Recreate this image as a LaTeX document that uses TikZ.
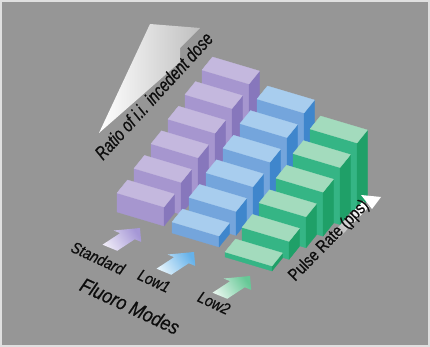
\documentclass[tikz,border=0pt]{standalone}
\usepackage{fontspec}
\setmainfont{Liberation Sans}
\newfontfamily\labfont[FakeBold=0.7]{Liberation Sans}
\definecolor{bg}{HTML}{969696}
\definecolor{putop}{HTML}{C4B8DE}
\definecolor{pufront}{HTML}{A696CF}
\definecolor{puright}{HTML}{8777BC}
\definecolor{bltop}{HTML}{A8CDEE}
\definecolor{blfront}{HTML}{74A5DC}
\definecolor{blright}{HTML}{3F86CC}
\definecolor{grtop}{HTML}{A3DBBD}
\definecolor{grfront}{HTML}{35B585}
\definecolor{grright}{HTML}{1FA068}
\definecolor{pulight}{HTML}{ECE8F6}
\definecolor{pudark}{HTML}{A597D6}
\definecolor{bllight}{HTML}{E2F2FB}
\definecolor{bldark}{HTML}{66B2EA}
\definecolor{grlight}{HTML}{E2F4EA}
\definecolor{grdark}{HTML}{66C896}
\newcommand\modearrow[4]{%
  \begin{scope}[shift={(#1,#2)}]
    \shade[top color=#4, bottom color=#3, shading angle=-57]
      (0,0) -- (1.24,13.92) -- (-5.2,11.26) -- (-22.77,22.77) -- (-37.49,16.69)
      -- (-19.92,5.18) -- (-26.36,2.52) -- cycle;
  \end{scope}}
\begin{document}
\begin{tikzpicture}[x=1pt,y=-1pt,
  face/.style={fill=#1,draw=#1,line width=0.3pt,line join=round},
  lbl/.style={font=\labfont\fontsize{14}{14}\selectfont\itshape, inner sep=0pt, text=black!95}]
\useasboundingbox (0,0) rectangle (430,347);
\fill[black!12] (0,0) rectangle (430,347);
\fill[bg] (2,2) rectangle (428,345);
% ratio arrow
\shade[left color=white, right color=black!25] (99,133) -- (150,24) -- (200,28) -- (180,48) -- (180,62) -- cycle;
\node[anchor=base west, rotate=47.5, xscale=0.88, yscale=1.15, inner sep=0pt, text=black!95,
  font=\labfont\fontsize{16.5}{17}\selectfont\itshape] (ratio) at (103,161) {Ratio of i.i. incedent dose};
% blocks
\foreach \ox/\oy/\h/\c in {117/212/19/pu,172/233/11/bl,225/257/5/gr}{
  \foreach \i in {5,4,3,2,1,0}{
    \pgfmathsetmacro\fx{\ox+17*\i}
    \pgfmathsetmacro\fy{\oy-11.6*\i}
    \pgfmathsetmacro\ty{\fy-\h-13*\i}
    \path[face=\c front] (\fx,\fy) -- (\fx+47,\fy+14) -- (\fx+47,\ty+14) -- (\fx,\ty) -- cycle;
    \path[face=\c right] (\fx+47,\fy+14) -- (\fx+57.5,\fy+1) -- (\fx+57.5,\ty+1) -- (\fx+47,\ty+14) -- cycle;
    \path[face=\c top] (\fx,\ty) -- (\fx+47,\ty+14) -- (\fx+57.5,\ty+1) -- (\fx+10.5,\ty-13) -- cycle;
  }
}
% mode arrows
\modearrow{140}{228}{pulight}{pudark}
\modearrow{194}{252}{bllight}{bldark}
\modearrow{250}{276}{grlight}{grdark}
% labels
\node[lbl, rotate=-25, yscale=1.15] (std) at (98,258) {Standard};
\node[lbl, rotate=-25, yscale=1.15] (low1) at (154,281) {Low1};
\node[lbl, rotate=-25, yscale=1.15] (low2) at (214,303) {Low2};
\node[lbl, font=\labfont\fontsize{17.5}{18}\selectfont\itshape, rotate=-25, yscale=1.15] (fm) at (130,306) {Fluoro Modes};
% pulse rate arrow
\shade[top color=white, bottom color=bg, shading angle=-45]
  (324.9,252.8) -- (319.1,247.2) -- (363.1,201.2) -- (368.9,206.8) -- cycle;
\fill[white] (361,195) -- (381,197) -- (372,209) -- cycle;
\node[anchor=base west, rotate=45.5, xscale=0.95, yscale=1.15, inner sep=0pt, text=black!95,
  font=\labfont\fontsize{15}{15}\selectfont] (pulse) at (295,282) {Pulse Rate (pps)};
\end{tikzpicture}
\end{document}
